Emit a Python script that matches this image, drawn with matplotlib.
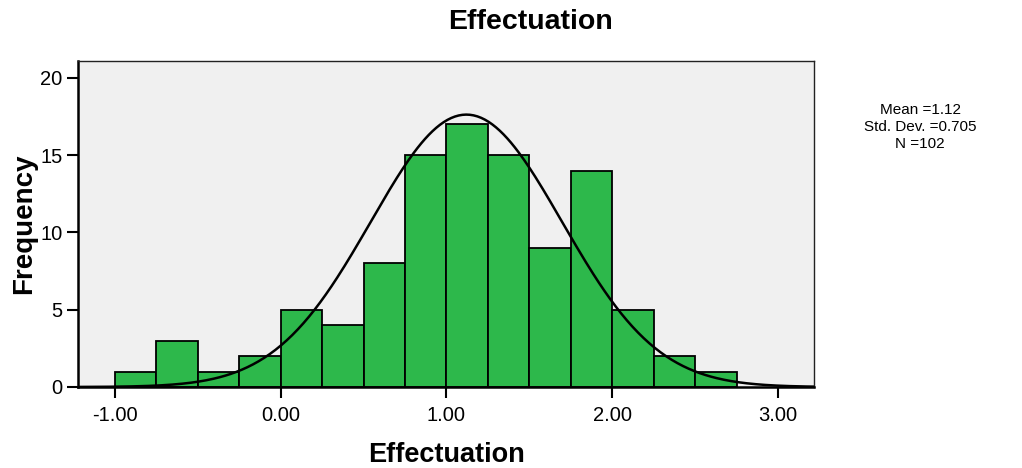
import matplotlib
matplotlib.use("Agg")
import matplotlib.pyplot as plt
import numpy as np

plt.rcParams['font.family'] = ['Liberation Sans', 'DejaVu Sans']

# histogram bins (width 0.25) and counts
bin_edges = [-1.0, -0.75, -0.5, -0.25, 0.0, 0.25, 0.5, 0.75, 1.0,
             1.25, 1.5, 1.75, 2.0, 2.25, 2.5, 2.75]
counts = [1, 3, 1, 2, 5, 4, 8, 15, 17, 15, 9, 14, 5, 2, 1]

mean = 1.12
std_dev = 0.705
n_obs = 102
# spread of the drawn curve
curve_sd = 0.577

x_ticks = [-1.0, 0.0, 1.0, 2.0, 3.0]
y_ticks = [0, 5, 10, 15, 20]

fig = plt.figure(figsize=(10.22, 4.68), dpi=100)
ax = fig.add_axes([78 / 1022, 81 / 468, 736 / 1022, 326 / 468])
ax.set_facecolor('#f0f0f0')

lefts = np.array(bin_edges[:-1])
widths = np.diff(bin_edges)
ax.bar(lefts, counts, width=widths, align='edge', color='#2db84b',
       edgecolor='black', linewidth=1.3, zorder=2)

# normal curve scaled to the histogram area
area = n_obs * widths[0]
xs = np.linspace(-1.25, 3.25, 400)
ys = area / (curve_sd * np.sqrt(2 * np.pi)) * \
    np.exp(-0.5 * ((xs - mean) / curve_sd) ** 2)
ax.plot(xs, ys, color='black', lw=1.8, zorder=3)

ax.set_xlim(-1.223, 3.217)
ax.set_ylim(0, 21.1)
ax.set_xticks(x_ticks)
ax.set_xticklabels(["{:.2f}".format(v) for v in x_ticks])
ax.set_yticks(y_ticks)
ax.tick_params(axis='both', direction='out', length=8, width=1.5,
               labelsize=14.5, pad=3)
ax.tick_params(axis='x', pad=6)
for side in ['left', 'bottom']:
    ax.spines[side].set_linewidth(1.8)
for side in ['top', 'right']:
    ax.spines[side].set_linewidth(1.0)
    ax.spines[side].set_color('#222222')

ax.set_xlabel("Effectuation", fontsize=19.5, fontweight='bold', va='center')
ax.xaxis.set_label_coords(0.5, (387 - 455) / 326)
ax.set_ylabel("Frequency", fontsize=20, fontweight='bold', va='center')
ax.yaxis.set_label_coords((24 - 78) / 736, 0.5)

fig.text(530 / 1022, 1 - 22 / 468, "Effectuation", fontsize=20.5,
         fontweight='bold', ha='center', va='center')

fig.text(920 / 1022, 1 - 127 / 468,
         "Mean =" + "{:.2f}".format(mean) + "\nStd. Dev. =" +
         "{:.3f}".format(std_dev) + "\nN =" + str(n_obs),
         fontsize=11, ha='center', va='center', linespacing=1.25)

fig.savefig("out.png", dpi=100)
